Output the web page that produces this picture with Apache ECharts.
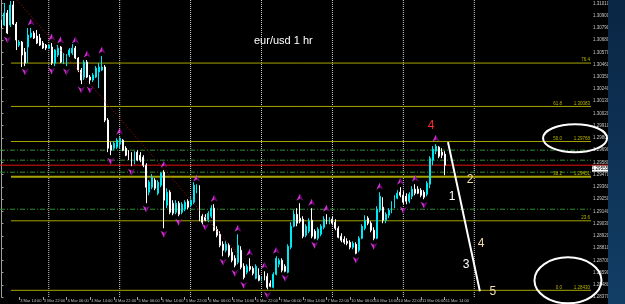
<!DOCTYPE html>
<html><head><meta charset="utf-8">
<script src="https://cdn.jsdelivr.net/npm/echarts@6/dist/echarts.min.js"></script>
<style>html,body{margin:0;padding:0;background:#000;overflow:hidden}#c{width:625px;height:304px}</style>
</head><body><div id="c"></div>
<script>
// ---- data ----
const dayLabels = ['3 Mar','4 Mar','5 Mar','6 Mar','7 Mar','10 Mar','11 Mar','12 Mar','13 Mar'];
const firstHour = 8;      // first visible bar: 3 Mar 08:00
const slotCount = 200;    // bar slots incl. right shift space
const categories = [];
for (let i = 0; i < slotCount; i++) {
  const h = firstHour + i;
  categories.push(dayLabels[Math.floor(h / 24)] + ' ' + String(h % 24).padStart(2, '0') + ':00');
}
const open = [
1.30833,1.30815,1.30923,1.30815,1.30995,1.30824,1.30635,1.30662,1.30572,1.30617,
1.30707,1.30743,1.30716,1.30698,1.30653,1.30635,1.30608,1.30617,1.30473,1.30545,
1.30617,1.30482,1.30482,1.30545,1.30563,1.30608,1.30518,1.30410,1.30338,1.30482,
1.30347,1.30320,1.30347,1.30392,1.30410,1.30437,1.29960,1.29735,1.29708,1.29717,
1.29744,1.29780,1.29708,1.29672,1.29645,1.29582,1.29672,1.29645,1.29627,1.29555,
1.29312,1.29357,1.29420,1.29303,1.29375,1.29492,1.29195,1.29312,1.29213,1.29132,
1.29213,1.29132,1.29159,1.29231,1.29195,1.29222,1.29330,1.29366,1.29096,1.29087,
1.29060,1.29096,1.29168,1.28979,1.28934,1.28844,1.28790,1.28835,1.28772,1.28718,
1.28682,1.28790,1.28646,1.28592,1.28646,1.28628,1.28538,1.28565,1.28529,1.28583,
1.28556,1.28493,1.28457,1.28574,1.28664,1.28700,1.28646,1.28592,1.28817,1.29006,
1.29114,1.29078,1.29069,1.28925,1.28961,1.29060,1.28961,1.28898,1.28934,1.28997,
1.29069,1.29042,1.29069,1.29042,1.28988,1.28916,1.28889,1.28871,1.28862,1.28817,
1.28844,1.28790,1.28898,1.28988,1.29078,1.29033,1.28970,1.28898,1.29150,1.29177,
1.29060,1.29105,1.29141,1.29204,1.29258,1.29312,1.29285,1.29276,1.29231,1.29276,
1.29339,1.29339,1.29330,1.29312,1.29294,1.29384,1.29600,1.29681,1.29717,1.29672,
1.29654];
const high = [
1.30860,1.31013,1.30950,1.31031,1.31031,1.30842,1.30680,1.30671,1.30608,1.30788,
1.30788,1.30761,1.30770,1.30734,1.30671,1.30644,1.30635,1.30653,1.30599,1.30635,
1.30626,1.30563,1.30554,1.30608,1.30644,1.30626,1.30527,1.30428,1.30500,1.30500,
1.30365,1.30383,1.30446,1.30473,1.30536,1.30455,1.29978,1.29762,1.29771,1.29798,
1.29807,1.29789,1.29726,1.29690,1.29672,1.29681,1.29690,1.29672,1.29645,1.29573,
1.29420,1.29474,1.29438,1.29420,1.29492,1.29510,1.29348,1.29330,1.29240,1.29240,
1.29231,1.29222,1.29240,1.29249,1.29267,1.29402,1.29384,1.29375,1.29114,1.29114,
1.29141,1.29195,1.29204,1.29006,1.28961,1.28871,1.28871,1.28853,1.28808,1.28745,
1.28934,1.28826,1.28673,1.28664,1.28718,1.28646,1.28664,1.28628,1.28556,1.28601,
1.28583,1.28520,1.28592,1.28736,1.28718,1.28718,1.28664,1.28844,1.29042,1.29150,
1.29168,1.29213,1.29096,1.29024,1.29078,1.29168,1.28979,1.28997,1.29024,1.29096,
1.29114,1.29087,1.29096,1.29069,1.29006,1.28943,1.28916,1.28898,1.28880,1.28871,
1.28862,1.28916,1.29024,1.29105,1.29096,1.29051,1.28997,1.29186,1.29312,1.29267,
1.29132,1.29168,1.29231,1.29285,1.29330,1.29357,1.29321,1.29303,1.29312,1.29366,
1.29384,1.29366,1.29348,1.29330,1.29411,1.29636,1.29726,1.29744,1.29726,1.29708,
1.29681];
const low = [
1.30788,1.30806,1.30734,1.30797,1.30815,1.30590,1.30617,1.30437,1.30446,1.30473,
1.30698,1.30689,1.30644,1.30626,1.30599,1.30590,1.30599,1.30455,1.30446,1.30527,
1.30473,1.30464,1.30446,1.30527,1.30545,1.30509,1.30392,1.30284,1.30320,1.30338,
1.30284,1.30302,1.30338,1.30248,1.30401,1.29942,1.29672,1.29645,1.29690,1.29699,
1.29708,1.29681,1.29636,1.29600,1.29546,1.29564,1.29591,1.29582,1.29537,1.29213,
1.29285,1.29339,1.29330,1.29285,1.29357,1.28988,1.29168,1.29114,1.29105,1.29114,
1.29096,1.29114,1.29141,1.29159,1.29177,1.29204,1.29303,1.29051,1.29024,1.29051,
1.29042,1.29078,1.28961,1.28907,1.28817,1.28736,1.28772,1.28727,1.28682,1.28637,
1.28664,1.28619,1.28529,1.28574,1.28601,1.28565,1.28529,1.28511,1.28511,1.28520,
1.28439,1.28457,1.28448,1.28565,1.28637,1.28592,1.28592,1.28583,1.28799,1.28997,
1.29006,1.29033,1.28898,1.28907,1.28943,1.28898,1.28889,1.28880,1.28916,1.28979,
1.29024,1.29024,1.29015,1.28970,1.28898,1.28862,1.28844,1.28835,1.28799,1.28799,
1.28754,1.28772,1.28889,1.28970,1.29015,1.28952,1.28880,1.28889,1.29132,1.29033,
1.29033,1.29078,1.29123,1.29168,1.29249,1.29267,1.29204,1.29204,1.29213,1.29249,
1.29285,1.29294,1.29267,1.29249,1.29276,1.29348,1.29555,1.29654,1.29618,1.29618,
1.29465];
const close = [
1.30806,1.30923,1.30743,1.30995,1.30824,1.30680,1.30662,1.30545,1.30473,1.30725,
1.30743,1.30698,1.30653,1.30635,1.30608,1.30608,1.30635,1.30473,1.30590,1.30608,
1.30482,1.30545,1.30536,1.30590,1.30608,1.30518,1.30410,1.30320,1.30482,1.30347,
1.30320,1.30365,1.30428,1.30437,1.30437,1.29960,1.29708,1.29690,1.29753,1.29780,
1.29798,1.29690,1.29645,1.29618,1.29573,1.29672,1.29600,1.29600,1.29555,1.29357,
1.29402,1.29447,1.29348,1.29402,1.29483,1.29240,1.29312,1.29132,1.29123,1.29213,
1.29114,1.29204,1.29222,1.29177,1.29240,1.29375,1.29366,1.29078,1.29042,1.29060,
1.29123,1.29168,1.28970,1.28925,1.28835,1.28790,1.28844,1.28745,1.28700,1.28655,
1.28835,1.28637,1.28547,1.28646,1.28619,1.28583,1.28646,1.28520,1.28538,1.28538,
1.28457,1.28466,1.28574,1.28718,1.28700,1.28610,1.28601,1.28826,1.29006,1.29114,
1.29033,1.29051,1.28916,1.29006,1.29051,1.28916,1.28898,1.28979,1.29006,1.29069,
1.29042,1.29069,1.29033,1.28988,1.28907,1.28880,1.28862,1.28853,1.28817,1.28853,
1.28763,1.28898,1.29006,1.29060,1.29033,1.28970,1.28898,1.29159,1.29276,1.29060,
1.29114,1.29150,1.29213,1.29267,1.29303,1.29285,1.29222,1.29231,1.29294,1.29339,
1.29303,1.29303,1.29285,1.29267,1.29393,1.29618,1.29699,1.29726,1.29636,1.29645,
1.29555];
const upFractalBars   = [10,17,20,25,29,34,40,55,66,72,80,84,89,93,101,105,110,128,135,140,147];
const downFractalBars = [2,8,17,22,27,30,37,44,49,55,60,69,75,79,82,90,96,106,120,126,136,143];
const dayStartBars = [16,40,64,88,112,136,160];
const fibLevels = ['0.0','23.6','38.2','50.0','61.8','76.4'];
const fibPrices = [1.28430,1.29055,1.29451,1.29768,1.30083,1.30473];
const fibShowPrice = [true,false,true,true,true,false];
const fibStartBar = 3.2;
const greenLevels = [1.29690,1.29600,1.29492,1.29159];
const trendLine = [[5.25,1.31040],[80.0,1.28754]];
const waveLine = [[151.1,1.29762],[161.9,1.28421]];
const waveLabels = [
  {t:'4', x:145.4, p:1.29906, c:'#ff2a2a'},
  {t:'1', x:152.5, p:1.29276, c:'#ffffff'},
  {t:'2', x:158.6, p:1.29429, c:'#f3dcb0'},
  {t:'3', x:157.2, p:1.28664, c:'#ffffff'},
  {t:'4', x:162.3, p:1.28853, c:'#f3dcb0'},
  {t:'5', x:166.3, p:1.28421, c:'#f3dcb0'}];
const ellipses = [{x:194.1, p:1.29798, rx:32, ry:14},{x:191.7, p:1.28520, rx:33.5, ry:23}];
const yMin = 1.2837, yMax = 1.3104, yStep = 0.0011;

// ---- chart ----
const chart = echarts.init(document.getElementById('c'), null, {renderer:'canvas'});
const lastClose = close[close.length - 1];
const candleData = open.map((o, i) => [o, close[i], low[i], high[i]]);
const arrowFill = {type:'linear',x:0,y:0,x2:1,y2:0,colorStops:[
  {offset:0,color:'#ff3cff'},{offset:0.5,color:'#ff3cff'},{offset:0.5,color:'#8c0a96'},{offset:1,color:'#8c0a96'}]};
const FONT = '"Liberation Sans", Arial, sans-serif';
const showTick = (idx) => idx >= 6 && (idx - 6) % 8 === 0 && idx < open.length;
const xEnd = slotCount - 0.5, xStart = -0.5;

const guide = (data, lineStyle, z) => ({type:'line', xAxisIndex:1, yAxisIndex:0, symbol:'none', silent:true, z:z, lineStyle:lineStyle, data:data});

const series = [
  ...dayStartBars.map(b => guide([[b, yMin],[b, yMax]], {color:'#d0d0d0', type:[1,1], width:1}, 0)),
  ...greenLevels.map(v => guide([[xStart, v],[xEnd, v]], {color:'#2e8f2e', type:[5,2,1,2], width:1}, 0)),
  guide([[xStart, lastClose],[xEnd, lastClose]], {color:'#e01414', width:1}, 0),
  ...fibPrices.map((p, k) => guide([[fibStartBar, p],[xEnd, p]], {color:'#a6a400', width: fibLevels[k] === '38.2' ? 2 : 1}, 1)),
  guide(trendLine, {color:'#b01010', width:1, type:[1,2]}, 3),
  {
    type:'candlestick', xAxisIndex:0, yAxisIndex:0, data:candleData, barWidth:1.4, clip:false, z:2,
    itemStyle:{color:'#00e8f4', color0:'#ffffff', borderColor:'#00e8f4', borderColor0:'#ffffff', borderWidth:1}
  },
  {
    type:'scatter', xAxisIndex:0, yAxisIndex:0, symbol:'path://M5,0 L10,10 L5,7 L0,10 Z',
    symbolSize:[7,7], symbolOffset:[0,-6], itemStyle:{color:arrowFill}, z:4,
    data: upFractalBars.map(b => [b, high[b]])
  },
  {
    type:'scatter', xAxisIndex:0, yAxisIndex:0, symbol:'path://M0,0 L5,3 L10,0 L5,10 Z',
    symbolSize:[7,7], symbolOffset:[0,6], itemStyle:{color:arrowFill}, z:4,
    data: downFractalBars.map(b => [b, low[b]])
  },
  guide(waveLine, {color:'#ffffff', width:2}, 5)
];

chart.setOption({
  animation:false,
  backgroundColor:'#000000',
  title:{text:'eur/usd 1 hr', left:249, top:30, textStyle:{color:'#ffffff', fontSize:11, fontWeight:'normal', fontFamily:FONT}},
  grid:{left:0, right:34, top:0, bottom:7, containLabel:false},
  xAxis:[
    {type:'category', data:categories, boundaryGap:true,
     axisLine:{show:false},
     axisTick:{show:true, interval:(i)=>showTick(i), alignWithLabel:true, length:3, lineStyle:{color:'#a0a0a0'}},
     axisLabel:{interval:(i)=>showTick(i), color:'#c0c0c0', fontSize:4, fontFamily:FONT, align:'left', margin:2, padding:[0,0,0,1]},
     splitLine:{show:false}},
    {type:'value', min:xStart, max:xEnd, show:false}
  ],
  yAxis:{type:'value', position:'right', min:yMin, max:yMax, interval:yStep,
    axisLine:{show:true, lineStyle:{color:'#a0a0a0'}},
    axisTick:{show:true, length:2, lineStyle:{color:'#a0a0a0'}},
    axisLabel:{color:'#c8c8c8', fontSize:4.5, fontFamily:FONT, margin:2, showMaxLabel:false, formatter:(v)=>v.toFixed(5)},
    splitLine:{show:false}},
  series
});

// ---- overlays positioned through the axes ----
const X = (i) => chart.convertToPixel({xAxisIndex:1}, i);
const Y = (p) => chart.convertToPixel({yAxisIndex:0}, p);
const g = [];
const axisX = X(xEnd);
fibPrices.forEach((p, k) => {
  const y = Y(p);
  if (fibShowPrice[k]) {
    g.push({type:'text', z:100, style:{x:axisX - 1, y:y - 0.5, text:p.toFixed(5), fill:'#b8b400', font:'4.5px ' + FONT, textAlign:'right', align:'right', textVerticalAlign:'bottom', verticalAlign:'bottom'}});
    g.push({type:'text', z:100, style:{x:axisX - 29, y:y - 0.5, text:fibLevels[k], fill:'#b8b400', font:'4.5px ' + FONT, textAlign:'right', align:'right', textVerticalAlign:'bottom', verticalAlign:'bottom'}});
  } else {
    g.push({type:'text', z:100, style:{x:axisX - 1, y:y - 0.5, text:fibLevels[k], fill:'#b8b400', font:'4.5px ' + FONT, textAlign:'right', align:'right', textVerticalAlign:'bottom', verticalAlign:'bottom'}});
  }
});
waveLabels.forEach(w => {
  g.push({type:'text', z:110, style:{x:X(w.x), y:Y(w.p), text:w.t, fill:w.c, font:'12px ' + FONT, textAlign:'center', align:'center', textVerticalAlign:'middle', verticalAlign:'middle'}});
});
ellipses.forEach(e => {
  g.push({type:'ellipse', z:110, shape:{cx:X(e.x), cy:Y(e.p), rx:e.rx, ry:e.ry}, style:{fill:'none', stroke:'#ffffff', lineWidth:2}});
});
const yRed = Y(lastClose);
g.push({type:'line', z:105, shape:{x1:axisX, y1:yRed, x2:608, y2:yRed}, style:{stroke:'#e01414', lineWidth:1}});
g.push({type:'rect', z:105, shape:{x:axisX + 1, y:yRed + 0.5, width:16, height:6}, style:{fill:'#ffffff'}});
g.push({type:'text', z:106, style:{x:axisX + 9, y:yRed + 3.5, text:lastClose.toFixed(5), fill:'#000000', font:'4.5px ' + FONT, textAlign:'center', align:'center', textVerticalAlign:'middle', verticalAlign:'middle'}});
g.push({type:'rect', z:120, shape:{x:608, y:0, width:17, height:304},
  style:{fill:{type:'linear',x:0,y:0,x2:0,y2:1,colorStops:[{offset:0,color:'#0a2644'},{offset:1,color:'#123e66'}]}}});
chart.setOption({graphic:g});
</script></body></html>
